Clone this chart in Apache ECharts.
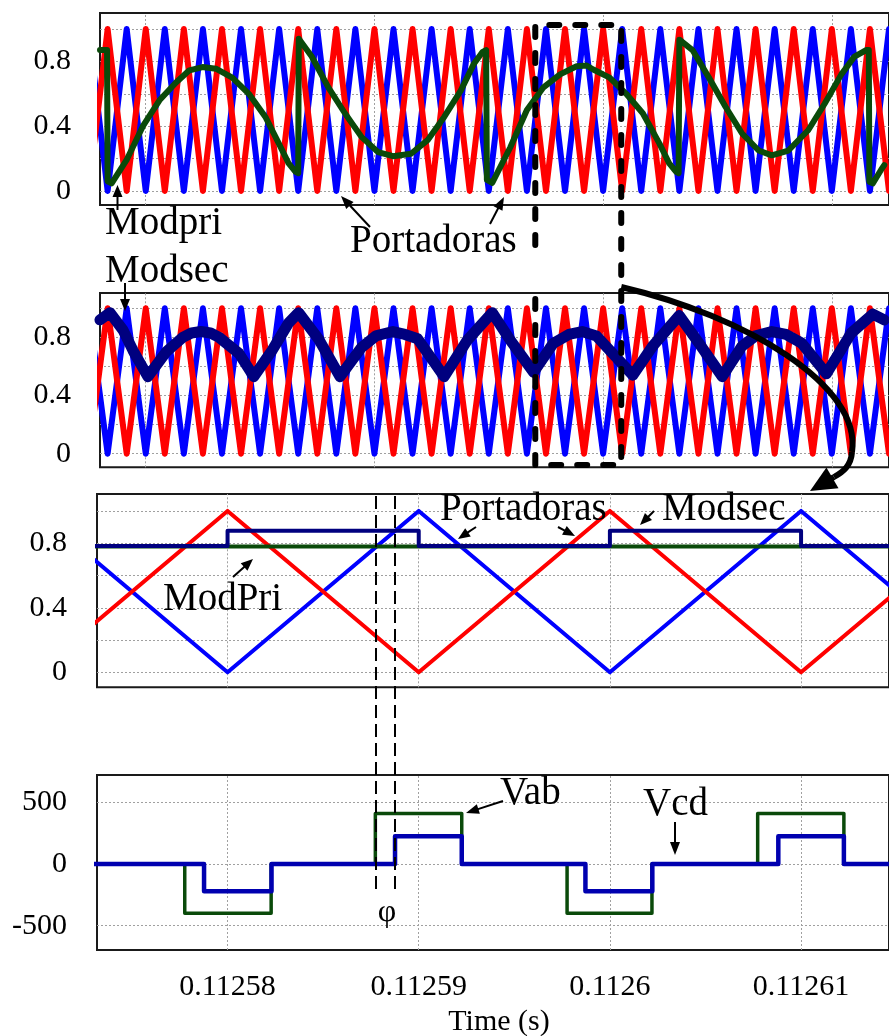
<!DOCTYPE html>
<html>
<head>
<meta charset="utf-8">
<script src="https://cdn.jsdelivr.net/npm/echarts@6/dist/echarts.min.js"></script>
<style>
  html, body { margin: 0; padding: 0; background: #fff; }
  #chart { width: 889px; height: 1036px; }
</style>
</head>
<body>
<div id="chart"></div>
<script>
// ---------- data ----------
// Panels 1 and 2: time in microseconds, carrier vertices (triangular carriers, 0..1)
const carrierTimes = [-30,-20,-10,0,10,20,30,40,50,60,70,80,90,100,110,120,130,140,150,160,170,180,190,200,210,220,230,240,250,260,270,280,290,300,310,320,330,340,350,360,370,380,390];
const carrierRed   = [0,1,0,1,0,1,0,1,0,1,0,1,0,1,0,1,0,1,0,1,0,1,0,1,0,1,0,1,0,1,0,1,0,1,0,1,0,1,0,1,0,1,0];
const carrierBlue  = [1,0,1,0,1,0,1,0,1,0,1,0,1,0,1,0,1,0,1,0,1,0,1,0,1,0,1,0,1,0,1,0,1,0,1,0,1,0,1,0,1,0,1];

// Primary modulating signal (panel 1)
const modPriWave = [[-24,0.87],[-20.3,0.87],[-20.0,0.06],[-17.9,0.047],[-10.1,0.19],[-1.5,0.40],[7.2,0.56],[15.9,0.67],[22.9,0.745],[29.8,0.765],[36.8,0.755],[45.4,0.70],[54.1,0.60],[62.8,0.457],[69.8,0.294],[75.0,0.17],[78.5,0.12],[80.0,0.11],[80.3,0.94],[81.1,0.946],[87.1,0.83],[95.8,0.64],[104.5,0.48],[113.2,0.334],[121.9,0.24],[129.7,0.215],[139.2,0.23],[147.9,0.314],[156.6,0.457],[165.3,0.62],[172.2,0.786],[176.6,0.857],[178.6,0.87],[179.0,0.068],[181.8,0.05],[191.3,0.27],[200.0,0.50],[208.7,0.64],[217.4,0.72],[226.1,0.77],[231.3,0.775],[234.8,0.75],[243.4,0.70],[252.1,0.60],[260.8,0.48],[269.5,0.294],[274.7,0.17],[278.2,0.12],[279.6,0.11],[280.0,0.934],[280.8,0.94],[286.9,0.87],[295.5,0.70],[304.2,0.52],[312.9,0.355],[321.6,0.25],[328.5,0.22],[337.2,0.25],[347.6,0.375],[356.3,0.54],[365.0,0.72],[371.9,0.83],[378.0,0.87],[379.4,0.87],[379.7,0.057],[381.5,0.047],[385.8,0.13],[387.5,0.16]];

// Secondary modulating signal (panel 2)
const modSecWave = [[-24,0.92],[-18.8,0.97],[-11.9,0.85],[-6.7,0.71],[1.1,0.53],[10.7,0.70],[19.4,0.80],[24.0,0.83],[29.0,0.84],[34.0,0.83],[38.5,0.80],[48.9,0.69],[56.7,0.53],[66.3,0.71],[75.0,0.90],[80.2,0.97],[90.6,0.79],[101.9,0.53],[113.2,0.73],[120.8,0.81],[129.7,0.84],[136.0,0.82],[142.7,0.79],[156.6,0.53],[168.7,0.78],[181.8,0.97],[191.3,0.78],[203.5,0.56],[213.9,0.76],[222.0,0.82],[229.0,0.84],[236.5,0.81],[255.6,0.54],[266.0,0.74],[279.9,0.95],[290.3,0.76],[302.5,0.53],[312.9,0.74],[320.0,0.81],[328.5,0.84],[336.0,0.82],[344.2,0.76],[357.2,0.55],[370.2,0.83],[381.5,0.96],[387.5,0.92]];

// Zoomed window (panel 3/4 time span shown inside the dashed box)
const zoomWindow = [204.4, 249.5];

// Panels 3 and 4: absolute time in microseconds
const zoomCarrierTimes = [112570,112580,112590,112600,112610,112620];
const zoomCarrierRed   = [0,1,0,1,0,1];
const zoomCarrierBlue  = [1,0,1,0,1,0];
const zoomModPri = [[112570,0.779],[112620,0.779]];
const zoomModSec = [[112570,0.783],[112580,0.783],[112580,0.877],[112590,0.877],[112590,0.783],[112600,0.783],[112600,0.877],[112610,0.877],[112610,0.783],[112620,0.783]];

// Bridge voltages (V)
const vab = [[112570,0],[112577.76,0],[112577.76,-400],[112582.28,-400],[112582.28,0],[112587.73,0],[112587.73,410],[112592.25,410],[112592.25,0],[112597.76,0],[112597.76,-400],[112602.2,-400],[112602.2,0],[112607.73,0],[112607.73,410],[112612.24,410],[112612.24,0],[112620,0]];
const vcd = [[112570,0],[112578.77,0],[112578.77,-220],[112582.3,-220],[112582.3,0],[112588.76,0],[112588.76,225],[112592.25,225],[112592.25,0],[112598.72,0],[112598.72,-220],[112602.22,-220],[112602.22,0],[112608.81,0],[112608.81,225],[112612.24,225],[112612.24,0],[112620,0]];

// Grid lines and tick labels
const overviewGridTimes = [0,120,240,360];
const levelGrid = [0,0.2,0.4,0.6,0.8,1.0];
const levelTicks = [0,0.4,0.8];
const levelTickLabels = ['0','0.4','0.8'];
const timeTicks = [112580,112590,112600,112610];
const timeTickLabels = ['0.11258','0.11259','0.1126','0.11261'];
const voltTicks = [-500,0,500];
const voltTickLabels = ['-500','0','500'];

// ---------- chart ----------
const FONT = '"Liberation Serif", "Times New Roman", serif';
const RED = '#ff0000', BLUE = '#0000ff', GREEN = '#0a4a0a', NAVY = '#00007f', VCD = '#0000b0';

const chart = echarts.init(document.getElementById('chart'), null, { renderer: 'canvas' });

const zip = (xs, ys) => xs.map((x, i) => [x, ys[i]]);

function gridLines(i, xs, ys) {
  return {
    type: 'line', xAxisIndex: i, yAxisIndex: i, data: [], silent: true, z: 1,
    markLine: {
      z: 1, silent: true, animation: false, symbol: ['none', 'none'],
      label: { show: false },
      lineStyle: { color: '#a0a0a0', type: [2, 2], width: 1 },
      data: xs.map(v => ({ xAxis: v })).concat(ys.map(v => ({ yAxis: v })))
    }
  };
}

function wave(i, data, color, width, z) {
  return {
    type: 'line', xAxisIndex: i, yAxisIndex: i, data: data,
    showSymbol: false, symbol: 'none', silent: true, z: z, clip: true,
    lineStyle: { color: color, width: width, join: 'round', cap: 'round' }
  };
}

const frame = { show: true, borderColor: '#1a1a1a', borderWidth: 2, backgroundColor: 'transparent' };

function hiddenX(i, min, max) {
  return { type: 'value', gridIndex: i, min: min, max: max,
    axisLine: { show: false }, axisTick: { show: false }, axisLabel: { show: false }, splitLine: { show: false } };
}
function levelY(i, min, max, ticks, labels, margin) {
  return { type: 'value', gridIndex: i, min: min, max: max,
    axisLine: { show: false }, axisTick: { show: false }, splitLine: { show: false },
    axisLabel: {
      show: true, customValues: ticks, margin: margin, color: '#000',
      fontFamily: FONT, fontSize: 30,
      formatter: v => { const k = ticks.findIndex(t => Math.abs(t - v) < 1e-6); return k >= 0 ? labels[k] : ''; }
    } };
}

const zMin = 112573.17, zMax = 112614.6;

const option = {
  animation: false,
  backgroundColor: '#fff',
  grid: [
    Object.assign({ left: 100, top: 13, width: 794.6, height: 192 }, frame),
    Object.assign({ left: 100, top: 293, width: 794.6, height: 174.3 }, frame),
    Object.assign({ left: 97, top: 494, width: 794.1, height: 193.3 }, frame),
    Object.assign({ left: 97, top: 775, width: 794.1, height: 175 }, frame),
    { left: 97, top: 495, width: 794.1, height: 394, show: false }
  ],
  xAxis: [
    hiddenX(0, -24, 390),
    hiddenX(1, -24, 390),
    hiddenX(2, zMin, zMax),
    { type: 'value', gridIndex: 3, min: zMin, max: zMax,
      axisLine: { show: false }, axisTick: { show: false }, splitLine: { show: false },
      axisLabel: {
        show: true, customValues: timeTicks, margin: 22, color: '#000',
        fontFamily: FONT, fontSize: 30,
        formatter: v => { const k = timeTicks.findIndex(t => Math.abs(t - v) < 1e-6); return k >= 0 ? timeTickLabels[k] : ''; }
      } },
    hiddenX(4, zMin, zMax)
  ],
  yAxis: [
    levelY(0, -0.0864, 1.0988, levelTicks, levelTickLabels, 29),
    levelY(1, -0.0935, 1.105, levelTicks, levelTickLabels, 29),
    levelY(2, -0.093, 1.105, levelTicks, levelTickLabels, 30),
    levelY(3, -697, 721, voltTicks, voltTickLabels, 30),
    { type: 'value', gridIndex: 4, min: 0, max: 1, show: false }
  ],
  series: [
    gridLines(0, overviewGridTimes, levelGrid),
    gridLines(1, overviewGridTimes, levelGrid),
    gridLines(2, timeTicks, levelGrid),
    gridLines(3, timeTicks, voltTicks),

    // panel 1: carriers + primary modulator
    wave(0, zip(carrierTimes, carrierBlue), BLUE, 6, 3),
    wave(0, zip(carrierTimes, carrierRed), RED, 6, 4),
    wave(0, modPriWave, GREEN, 6, 5),

    // panel 2: carriers + secondary modulator
    wave(1, zip(carrierTimes, carrierBlue), BLUE, 6, 3),
    wave(1, zip(carrierTimes, carrierRed), RED, 6, 4),
    wave(1, modSecWave, NAVY, 11, 5),

    // panel 3: zoomed carriers and modulators
    wave(2, zip(zoomCarrierTimes, zoomCarrierBlue), BLUE, 4, 3),
    wave(2, zip(zoomCarrierTimes, zoomCarrierRed), RED, 4, 4),
    wave(2, zoomModPri, GREEN, 4, 5),
    wave(2, zoomModSec, NAVY, 4, 6),

    // panel 4: bridge voltages
    wave(3, vab, GREEN, 3.5, 5),
    wave(3, vcd, VCD, 4.5, 6),

    // phase-shift markers across panels 3 and 4
    {
      type: 'line', xAxisIndex: 4, yAxisIndex: 4, data: [], silent: true, z: 10,
      markLine: {
        z: 10, silent: true, animation: false, symbol: ['none', 'none'],
        label: { show: false },
        lineStyle: { color: '#000', type: [13, 6], width: 2 },
        data: [{ xAxis: vab[6][0] }, { xAxis: vcd[6][0] }]
      }
    }
  ]
};
chart.setOption(option);

// ---------- annotations ----------
function arrow(x1, y1, x2, y2, w, hl, hw) {
  const dx = x2 - x1, dy = y2 - y1, L = Math.hypot(dx, dy), ux = dx / L, uy = dy / L;
  const bx = x2 - ux * hl, by = y2 - uy * hl;
  return [
    { type: 'line', z: 100, silent: true, shape: { x1: x1, y1: y1, x2: bx + ux * 2, y2: by + uy * 2 },
      style: { stroke: '#000', lineWidth: w } },
    { type: 'polygon', z: 100, silent: true,
      shape: { points: [[x2, y2], [bx - uy * hw, by + ux * hw], [bx + uy * hw, by - ux * hw]] },
      style: { fill: '#000' } }
  ];
}
function label(text, x, y, size, align) {
  return { type: 'text', z: 100, silent: true,
    style: { text: text, x: x, y: y, font: size + 'px ' + FONT, fill: '#000',
      align: align || 'left', verticalAlign: 'middle', textAlign: align || 'left', textVerticalAlign: 'middle' } };
}

const xL = chart.convertToPixel({ xAxisIndex: 0 }, zoomWindow[0]);
const xR = chart.convertToPixel({ xAxisIndex: 0 }, zoomWindow[1]);

const graphics = [
  // dashed box marking the zoomed window
  { type: 'polyline', z: 90, silent: true,
    shape: { points: [[xL, 245], [xL, 25], [xR, 25], [xR, 465], [xL, 465], [xL, 287]] },
    style: { stroke: '#000', lineWidth: 6, lineDash: [10, 16], lineCap: 'round', fill: null } },
  // curved arrow towards the zoomed panel
  { type: 'bezierCurve', z: 90, silent: true,
    shape: { x1: xR, y1: 287, cpx1: 745, cpy1: 316, cpx2: 862, cpy2: 385, x2: 852, y2: 452 },
    style: { stroke: '#000', lineWidth: 6, fill: null } },
  { type: 'bezierCurve', z: 90, silent: true,
    shape: { x1: 852, y1: 452, cpx1: 851, cpy1: 466, cpx2: 843, cpy2: 472, x2: 834, y2: 477 },
    style: { stroke: '#000', lineWidth: 6, fill: null } }
].concat(
  arrow(834, 477, 810, 491, 6, 26, 12),
  arrow(117.5, 210, 117.5, 185, 2, 12, 5),
  arrow(125, 283, 125, 311, 2, 12, 5),
  arrow(370, 227, 341, 196, 2, 13, 5),
  arrow(490, 224, 504, 197, 2, 13, 5),
  arrow(476, 527, 458, 539, 2, 12, 5),
  arrow(558, 527, 575, 536, 2, 12, 5),
  arrow(654, 511, 640, 525, 2, 12, 5),
  arrow(233, 577, 253, 559, 2, 12, 5),
  arrow(503, 801, 466, 813, 2, 13, 5),
  arrow(675, 822, 675, 855, 2, 13, 5),
  [
    label('Modpri', 105, 224, 39),
    label('Modsec', 105, 272, 39),
    label('Portadoras', 350, 242, 39),
    label('Portadoras', 440, 510, 39),
    label('Modsec', 662, 510, 39),
    label('ModPri', 163, 600, 39),
    label('Vab', 500, 794, 39),
    label('Vcd', 643, 805, 39),
    label('φ', 387, 913, 32, 'center'),
    label('Time (s)', 499, 1022, 30, 'center')
  ]
);

chart.setOption({ graphic: graphics });
</script>
</body>
</html>
